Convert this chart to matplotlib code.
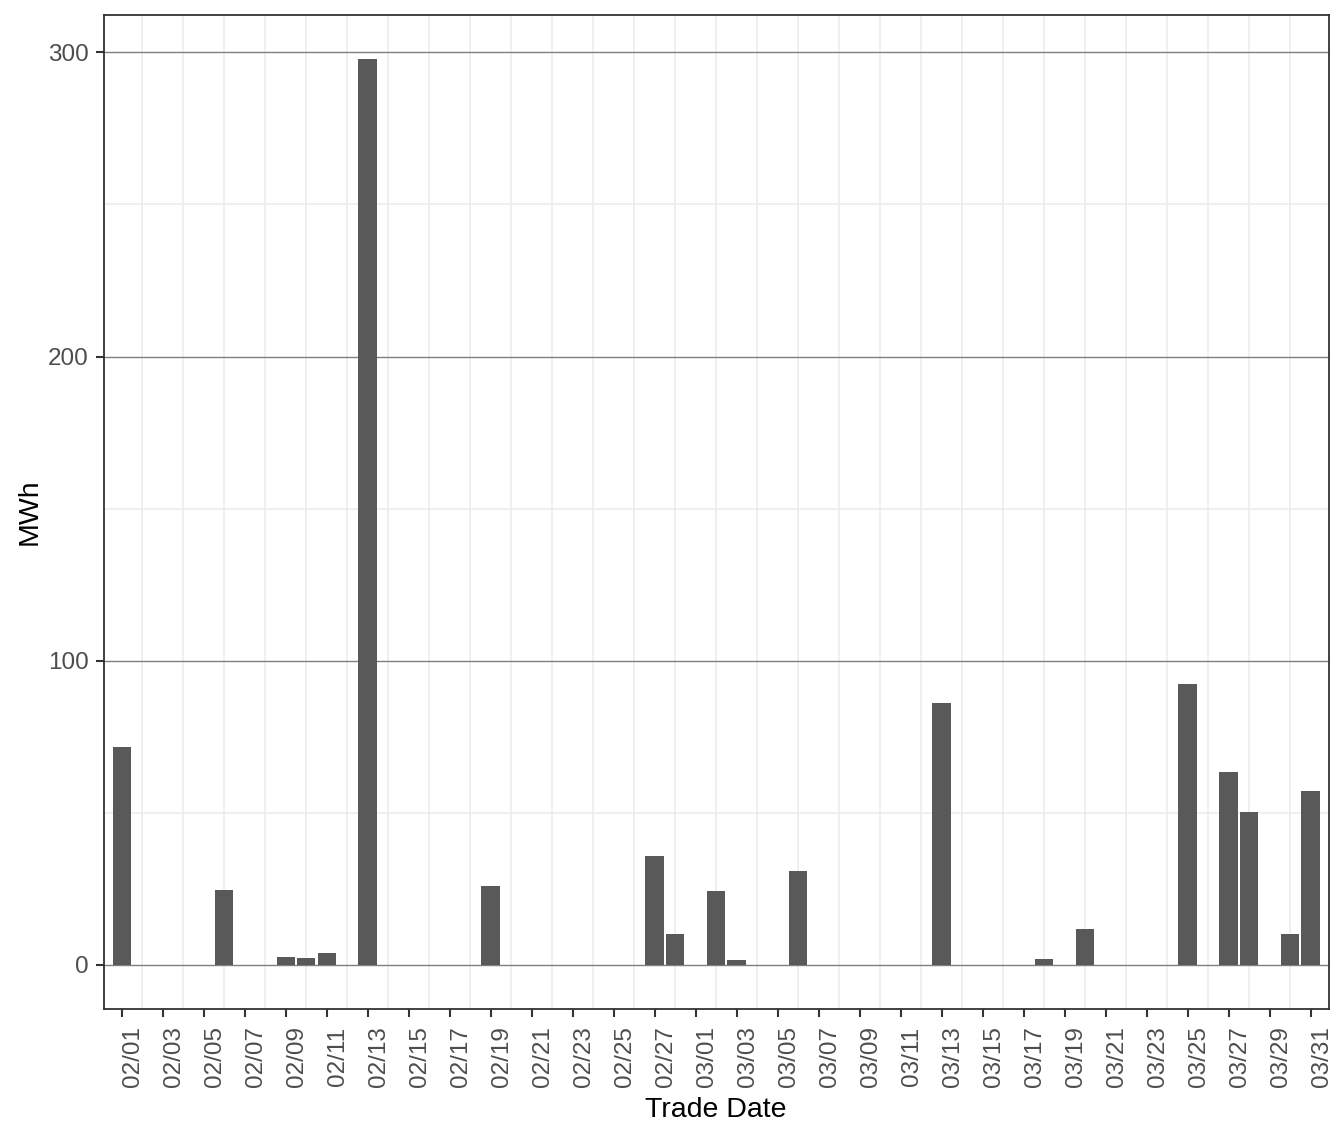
import numpy as np
import pandas as pd
import matplotlib
matplotlib.use("Agg")
import matplotlib.pyplot as plt

plt.rcParams['font.family'] = ['Liberation Sans', 'DejaVu Sans']

# Data
dates = ["02/01", "02/06", "02/09", "02/10", "02/11", "02/13", "02/19", "02/27",
         "02/28", "03/02", "03/03", "03/06", "03/13", "03/18", "03/20", "03/25",
         "03/27", "03/28", "03/30", "03/31"]
mwh = [71.7, 24.7, 2.6, 2.3, 3.9, 297.7, 26.0, 35.9,
       10.2, 24.3, 1.6, 30.9, 86.2, 2.0, 11.8, 92.4,
       63.5, 50.3, 10.2, 57.2]
year = 2023
start = pd.Timestamp(f"{year}-02-01")
end = pd.Timestamp(f"{year}-03-31")
all_days = pd.date_range(start, end, freq="D")
tick_days = all_days[::2]
y_ticks = [0, 100, 200, 300]
y_minor = [50, 150, 250]

day_idx = [(pd.Timestamp(f"{year}-" + d.replace("/", "-")) - start).days for d in dates]

W, H = 1344, 1142
fig = plt.figure(figsize=(W / 100, H / 100), dpi=100)
left, right = 103.7 / W, 1328.7 / W
top, bottom = 1 - 15 / H, 1 - 1009.3 / H
ax = fig.add_axes([left, bottom, right - left, top - bottom])

n = len(all_days)
ax.set_xlim(-0.88, (n - 1) + 0.88)
ymax = max(mwh)
ax.set_ylim(-0.049 * ymax, 1.049 * ymax)

# grid
for i in range(1, n, 2):
    ax.axvline(i, color="#EBEBEB", lw=1.1, zorder=0)
for v in y_minor:
    ax.axhline(v, color="#EBEBEB", lw=1.1, zorder=0)
for v in y_ticks:
    ax.axhline(v, color="#7F7F7F", lw=1.0, zorder=1)

ax.bar(day_idx, mwh, width=0.9, color="#595959", zorder=2)

ax.set_xticks(range(0, n, 2))
ax.set_xticklabels([d.strftime("%m/%d") for d in tick_days], rotation=90,
                   ha="left", va="top", fontsize=17.5, color="#4D4D4D")
ax.set_yticks(y_ticks)
ax.set_yticklabels([str(v) for v in y_ticks], fontsize=17.5, color="#4D4D4D")
ax.tick_params(axis="both", length=5.8, width=1.5, color="#333333")
ax.tick_params(axis="x", pad=6.5)
ax.tick_params(axis="y", pad=4.8)

for s in ax.spines.values():
    s.set_color("#333333")
    s.set_linewidth(1.3)
    s.set_zorder(5)

fig.text(716 / W, 1 - 1110 / H, "Trade Date", ha="center", va="center",
         fontsize=20.5, color="black")
fig.text(30 / W, 1 - 512 / H, "MWh", ha="center", va="center", rotation=90,
         fontsize=20.5, color="black")

fig.savefig("out.png", dpi=100, facecolor="white")
